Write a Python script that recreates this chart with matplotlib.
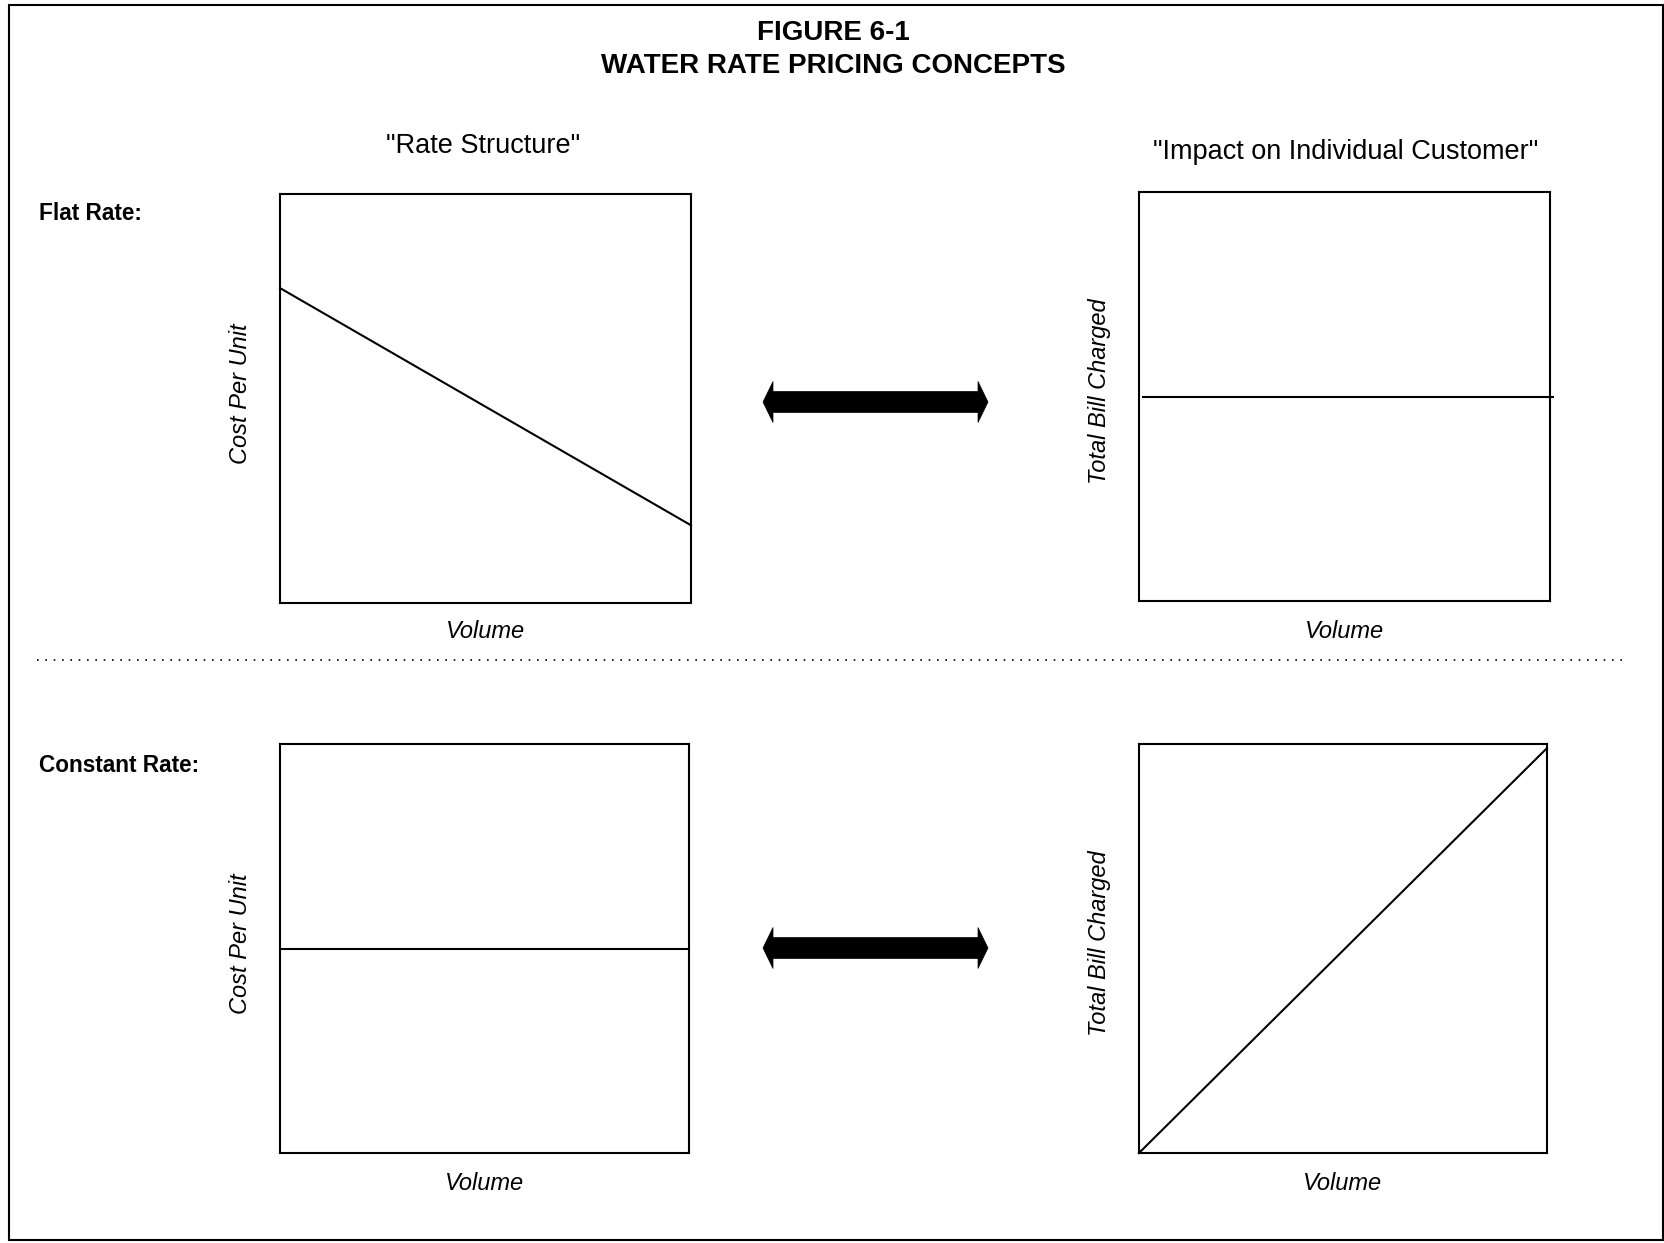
import matplotlib.pyplot as plt
from matplotlib.patches import Polygon, Rectangle

plt.rcParams['font.family'] = ['Liberation Sans', 'DejaVu Sans']

W, H = 1665, 1243

# data (axes run 0..1 in both directions)
volume = [0, 1]
flat_cost_per_unit = [0.77, 0.19]
flat_bill_volume = [0.01, 1.008]
flat_total_bill = [0.5, 0.5]
const_cost_per_unit = [0.5, 0.5]
const_total_bill = [0.0, 0.99]

row_labels = ["Flat Rate:", "Constant Rate:"]
col_titles = ['"Rate Structure"', '"Impact on Individual Customer"']

fig = plt.figure(figsize=(W / 100, H / 100), dpi=100)


def px_axes(x0, y0, x1, y1):
    # pixel box (top-left origin) -> figure axes
    return fig.add_axes([x0 / W, 1 - y1 / H, (x1 - x0) / W, (y1 - y0) / H])


def panel(box, x, y, ylabel, ylab_x, vol_y):
    ax = px_axes(*box)
    ax.plot(x, y, color="black", lw=1.5, clip_on=False)
    ax.set_xlim(0, 1)
    ax.set_ylim(0, 1)
    ax.set_xticks([])
    ax.set_yticks([])
    for s in ax.spines.values():
        s.set_linewidth(1.5)
    xc = (box[0] + box[2]) / 2
    fig.text(xc / W, 1 - vol_y / H, "Volume", style="italic",
             fontsize=17, ha="center", va="center")
    fig.text(ylab_x / W, 1 - ((box[1] + box[3]) / 2 - 5) / H, ylabel,
             style="italic", fontsize=17, rotation=90, ha="center", va="center")
    return ax


panel((280, 194, 691, 603), volume, flat_cost_per_unit, "Cost Per Unit", 241, 632)
panel((1139, 192, 1550, 601), flat_bill_volume, flat_total_bill, "Total Bill Charged", 1100, 632)
panel((280, 744, 689, 1153), volume, const_cost_per_unit, "Cost Per Unit", 241, 1184)
panel((1139, 744, 1547, 1153), volume, const_total_bill, "Total Bill Charged", 1100, 1184)

# outer frame
fig.patches.append(Rectangle((9 / W, 1 - 1240 / H), (1663 - 9) / W, (1240 - 5) / H,
                             transform=fig.transFigure, fill=False,
                             edgecolor="black", lw=1.5))

# titles
fig.text(833 / W, 1 - 33 / H, "FIGURE 6-1", fontsize=20, weight="bold",
         ha="center", va="center")
fig.text(833 / W, 1 - 66 / H, "WATER RATE PRICING CONCEPTS", fontsize=20,
         weight="bold", ha="center", va="center")
fig.text(483 / W, 1 - 146 / H, col_titles[0], fontsize=19.5, ha="center", va="center")
fig.text(1346 / W, 1 - 152 / H, col_titles[1], fontsize=19.5, ha="center", va="center")
fig.text(39 / W, 1 - 213 / H, row_labels[0], fontsize=16.3, weight="bold",
         ha="left", va="center")
fig.text(39 / W, 1 - 766 / H, row_labels[1], fontsize=16.3, weight="bold",
         ha="left", va="center")

# dotted separator
fig.add_artist(plt.Line2D([37 / W, 1622 / W], [1 - 660 / H, 1 - 660 / H],
                          transform=fig.transFigure, color="black", lw=1.2,
                          linestyle=(0, (1, 4))))


def double_arrow(yc):
    l, r = 763, 988
    hb = 10
    sh, hh = 10.5, 20.5
    pts = [(l, yc), (l + hb, yc - hh), (l + hb, yc - sh), (r - hb, yc - sh),
           (r - hb, yc - hh), (r, yc), (r - hb, yc + hh), (r - hb, yc + sh),
           (l + hb, yc + sh), (l + hb, yc + hh)]
    pts = [(x / W, 1 - y / H) for x, y in pts]
    fig.patches.append(Polygon(pts, closed=True, transform=fig.transFigure,
                               facecolor="black", edgecolor="black", lw=0.5))


double_arrow(402)
double_arrow(948)

fig.savefig("out.png", dpi=100, facecolor="white")
